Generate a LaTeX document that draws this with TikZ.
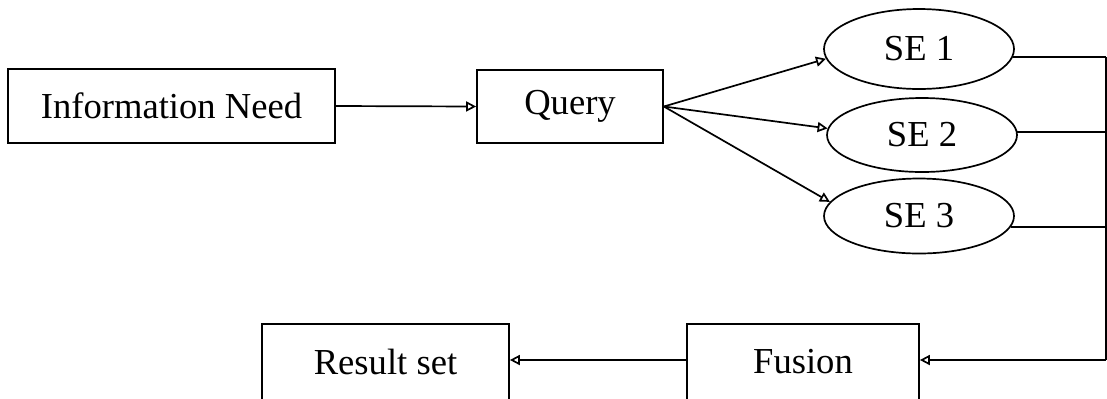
\documentclass[tikz,border=0pt]{standalone}
\usepackage{fontspec}
\setmainfont{Liberation Serif}
\usetikzlibrary{shapes,arrows.meta}

\begin{document}
\begin{tikzpicture}[x=0.5pt,y=-0.5pt]
    \tikzstyle{every node}=[font=\fontsize{18.3}{22}\selectfont,line width=0.85pt]
    \tikzstyle{box}=[rectangle,draw,inner sep=0pt]
    \tikzstyle{engine}=[ellipse,draw,inner sep=0pt,minimum width=95pt]
    \tikzstyle{flow}=[-{Triangle[open,length=5pt,width=5pt]},line width=0.85pt]
    \useasboundingbox (0,0) rectangle (1107,398);
    \clip (0,0) rectangle (1107,398);
    % top row
    \node[box,minimum width=163.5pt,minimum height=37pt] (need) at (171.5,106) {Information Need};
    \node[box,minimum width=93pt,minimum height=36.5pt] (query) at (570,106.5) {Query};
    \node[engine,minimum height=40pt] (se1) at (919,49) {SE 1};
    \node[engine,minimum height=37pt] (se2) at (922,135) {SE 2};
    \node[engine,minimum height=37.5pt] (se3) at (919,216) {SE 3};
    % bottom row, cut off by the page edge
    \node[box,minimum width=116pt,minimum height=38pt] (fusion) at (803,362) {Fusion};
    \node[box,minimum width=123.5pt,minimum height=38pt] (result) at (385.5,362) {Result set};
    \coordinate (busend) at (1106,360);

    \draw[flow] (need.east) -- (query.west);
    \foreach \n/\a in {1/186,2/176,3/171}
      \draw[flow] (query.east) -- (se\n.\a);
    % engines feed the fusion step
    \draw[line width=0.85pt] (se1.-5) -- (se1.-5 -| busend);
    \draw[line width=0.85pt] (se2.2) -- (se2.2 -| busend);
    \draw[line width=0.85pt] (se3.-7) -- (se3.-7 -| busend);
    \draw[line width=0.85pt] (se1.-5 -| busend) -- (busend);
    \draw[flow] (busend) -- (fusion.east |- busend);
    \draw[flow] (fusion.west |- busend) -- (result.east |- busend);
\end{tikzpicture}
\end{document}
